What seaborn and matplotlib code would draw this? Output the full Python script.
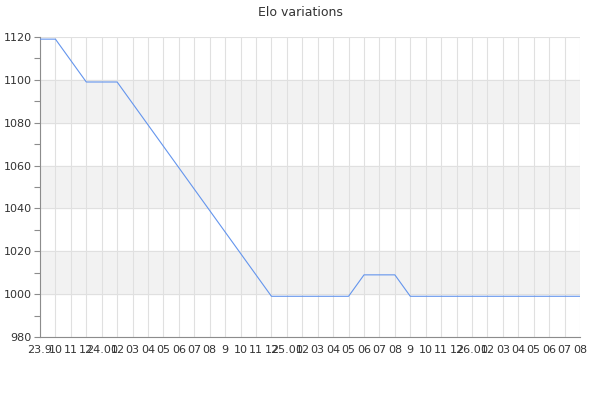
import pandas as pd
import matplotlib
matplotlib.use("Agg")
import matplotlib.pyplot as plt
import seaborn as sns
from matplotlib.ticker import MultipleLocator

# Etiquetas del eje x (año.mes al cambiar de año)
labels = ["23.9", "10", "11", "12",
          "24.01", "02", "03", "04", "05", "06", "07", "08", "9", "10", "11", "12",
          "25.01", "02", "03", "04", "05", "06", "07", "08", "9", "10", "11", "12",
          "26.01", "02", "03", "04", "05", "06", "07", "08"]

# Valores de Elo
elo = [1119, 1119, 1109, 1099, 1099, 1099, 1089, 1079, 1069, 1059,
       1049, 1039, 1029, 1019, 1009, 999, 999, 999, 999, 999,
       999, 1009, 1009, 1009, 999, 999, 999, 999, 999, 999,
       999, 999, 999, 999, 999, 999]

df = pd.DataFrame({"idx": range(len(elo)), "elo": elo})

sns.set_theme(style="white")
plt.rcParams['font.family'] = ['DejaVu Sans']

fig = plt.figure(figsize=(6, 4), dpi=100)
ax = fig.add_axes([40 / 600, 1 - 337 / 400, 540 / 600, 300 / 400])

# Bandas grises alternas
for lo in (1000, 1040, 1080):
    ax.axhspan(lo, lo + 20, color="#f2f2f2", zorder=0)

sns.lineplot(data=df, x="idx", y="elo", ax=ax, color="#6495ed", linewidth=0.8, zorder=3)

ax.set_xlim(0, len(elo) - 1)
ax.set_ylim(980, 1120)
ax.set_xticks(range(len(labels)))
ax.set_xticklabels(labels)
ax.yaxis.set_major_locator(MultipleLocator(20))
ax.yaxis.set_minor_locator(MultipleLocator(10))

ax.grid(True, which="major", color="#e0e0e0", linewidth=0.8, zorder=1)
ax.set_axisbelow(True)
ax.set_xlabel("")
ax.set_ylabel("")

for s in ("top", "right"):
    ax.spines[s].set_visible(False)
for s in ("left", "bottom"):
    ax.spines[s].set_color("#8c8c8c")
    ax.spines[s].set_linewidth(0.8)

ax.tick_params(axis="x", length=0, pad=6, labelsize=8, colors="#333333")
ax.tick_params(axis="y", which="major", length=4, width=0.8, color="#8c8c8c",
               left=True, pad=2, labelsize=8, labelcolor="#333333")
ax.tick_params(axis="y", which="minor", length=4, width=0.8, color="#8c8c8c", left=True)

fig.suptitle("Elo variations", y=0.985, fontsize=9, color="#333333")

fig.savefig("out.png", dpi=100)
